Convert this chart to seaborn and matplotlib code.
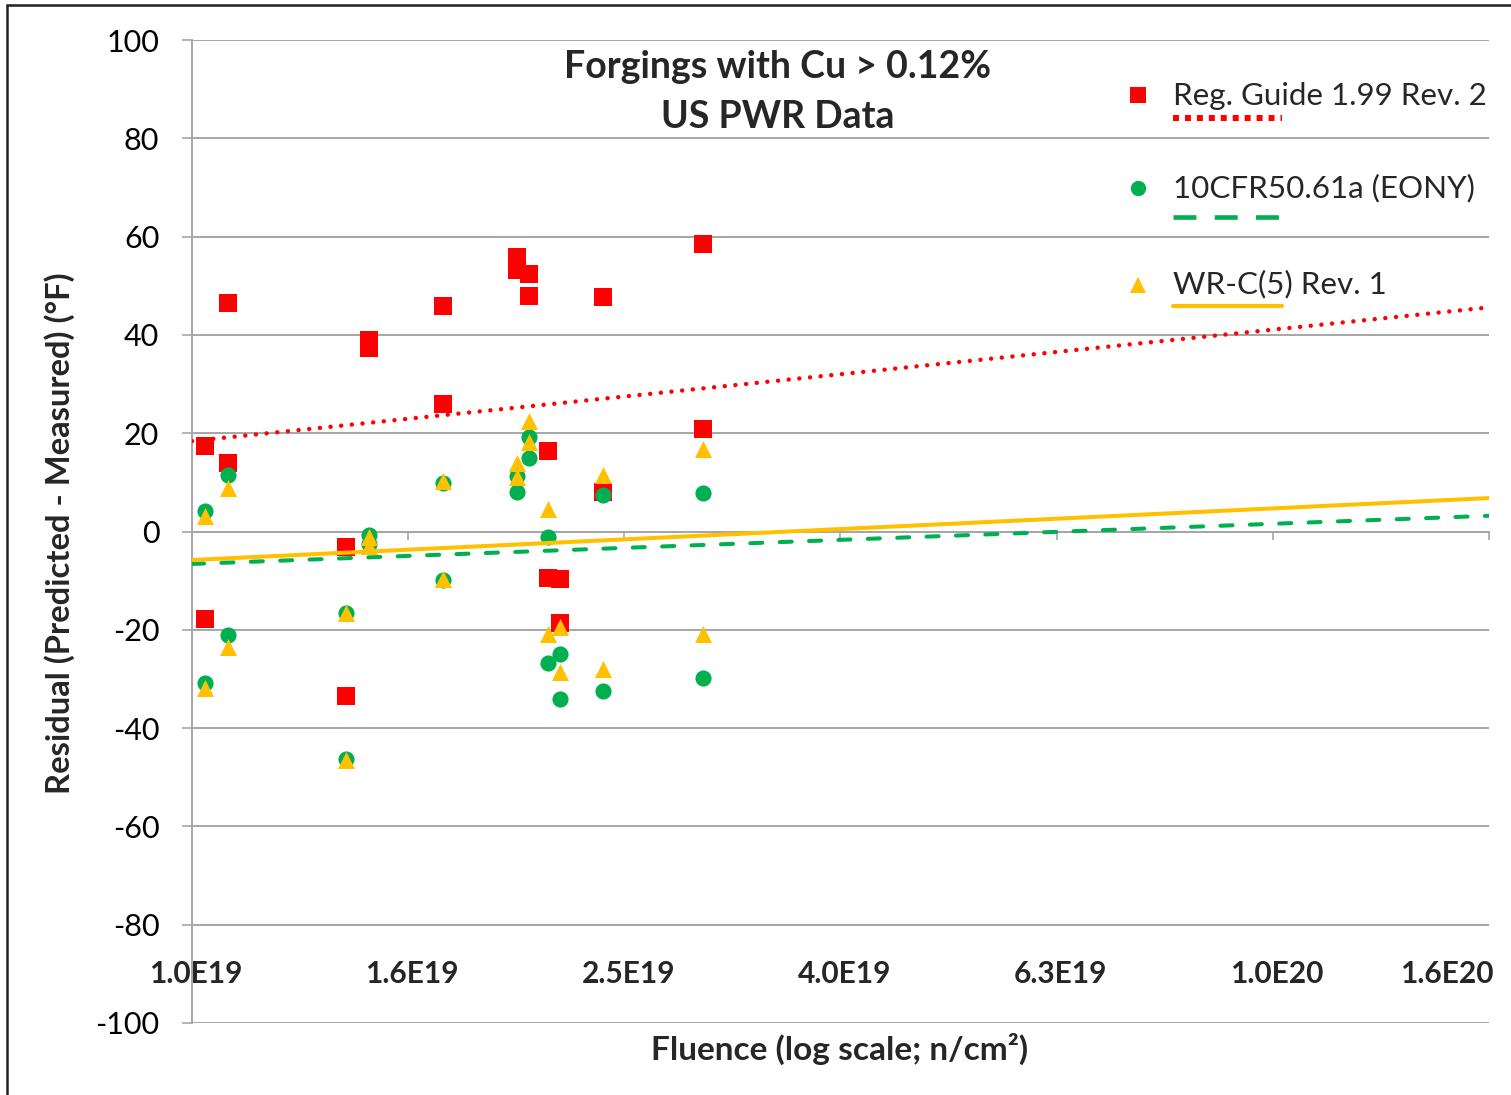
import numpy as np
import pandas as pd
import matplotlib
matplotlib.use("Agg")
import matplotlib.pyplot as plt
import seaborn as sns
from matplotlib.lines import Line2D

# ---------------- data ----------------
fluence = [1.028e19, 1.028e19, 1.080e19, 1.080e19, 1.389e19, 1.389e19,
           1.458e19, 1.458e19, 1.707e19, 1.707e19, 1.998e19, 1.998e19,
           2.050e19, 2.050e19, 2.135e19, 2.135e19, 2.190e19, 2.190e19,
           2.401e19, 2.401e19, 2.970e19, 2.970e19]
rg199 = [17.3, -17.8, 46.5, 14.0, -3.2, -33.4, 39.0, 37.3, 45.8, 26.0,
         55.9, 53.3, 52.3, 48.0, 16.3, -9.4, -9.7, -18.7, 47.8, 8.1,
         58.5, 20.8]
eony = [4.2, -30.9, 11.4, -21.0, -16.5, -46.3, -0.7, -2.6, 9.9, -9.8,
        11.2, 8.0, 19.3, 15.0, -1.1, -26.7, -25.0, -34.0, 7.4, -32.4,
        7.8, -29.9]
wrc5 = [3.1, -31.8, 8.9, -23.4, -16.5, -46.5, -1.2, -2.9, 10.2, -9.7,
        13.9, 11.0, 22.4, 18.2, 4.6, -20.8, -19.5, -28.6, 11.5, -28.0,
        16.7, -20.9]
series_names = ["Reg. Guide 1.99 Rev. 2", "10CFR50.61a (EONY)", "WR-C(5) Rev. 1"]

trend_fluence = [1.0e19, 1.585e20]
trend_rg199 = [18.4, 45.6]
trend_eony = [-6.6, 3.2]
trend_wrc5 = [-5.8, 6.8]

x_tick_values = [1.0e19, 1.585e19, 2.512e19, 3.981e19, 6.310e19, 1.0e20, 1.585e20]
x_tick_labels = ["1.0E19", "1.6E19", "2.5E19", "4.0E19", "6.3E19", "1.0E20", "1.6E20"]
y_ticks = list(range(-100, 101, 20))

title_lines = ["Forgings with Cu > 0.12%", "US PWR Data"]
x_label = "Fluence (log scale; n/cm²)"
y_label = "Residual (Predicted - Measured) (°F)"

# ---------------- styling ----------------
sns.set_theme(style="white")
plt.rcParams['font.family'] = ['Lato', 'DejaVu Sans']

W, H = 1511, 1095
fig = plt.figure(figsize=(W / 100, H / 100), dpi=100)
fig.patch.set_facecolor("white")

def fx(px):
    return px / W

def fy(py):
    return 1 - py / H

ax = fig.add_axes([fx(192), fy(1023), fx(1489) - fx(192), fy(40) - fy(1023)])
ax.set_facecolor("white")

RED = "#FF0000"
GREEN = "#00B050"
YELLOW = "#FFC000"
GRID = "#A6A6A6"

df = pd.DataFrame({
    "fluence": fluence * 3,
    "residual": rg199 + eony + wrc5,
    "model": [series_names[0]] * len(rg199) + [series_names[1]] * len(eony)
             + [series_names[2]] * len(wrc5),
})

marker_specs = [("s", RED, 150, 3), ("o", GREEN, 135, 4), ("^", YELLOW, 150, 5)]
for name, (mk, col, sz, zo) in zip(series_names, marker_specs):
    sub = df[df["model"] == name]
    sns.scatterplot(data=sub, x="fluence", y="residual", marker=mk, color=col,
                    s=sz, linewidth=0, ax=ax, zorder=zo, legend=False)

# trend lines
ax.plot(trend_fluence, trend_rg199, color=RED, lw=3.2, linestyle=(0, (0.01, 2.4)),
        dash_capstyle="round", zorder=6)
ax.plot(trend_fluence, trend_eony, color=GREEN, lw=2.9, linestyle=(0, (3.0, 4.3)),
        dash_capstyle="round", zorder=6)
ax.plot(trend_fluence, trend_wrc5, color=YELLOW, lw=2.9, linestyle="-", zorder=6)

ax.set_xscale("log")
ax.set_xlim(1.0e19, 1.585e20)
ax.set_ylim(-100, 100)
ax.set_xlabel("")
ax.set_ylabel("")

# y axis
ax.set_yticks(y_ticks)
ax.set_yticklabels([str(v) for v in y_ticks])
ax.yaxis.grid(True, color=GRID, lw=1.4, zorder=0)
ax.xaxis.grid(False)
ax.set_axisbelow(True)
ax.tick_params(axis="y", direction="out", length=7.5, width=1.2, color=GRID,
               pad=16, labelsize=22, labelcolor="black", left=True)

# x axis crossing at y = 0
ax.spines["top"].set_visible(False)
ax.spines["right"].set_visible(False)
ax.spines["bottom"].set_position(("data", 0))
ax.spines["bottom"].set_color(GRID)
ax.spines["bottom"].set_linewidth(1.4)
ax.spines["left"].set_color(GRID)
ax.spines["left"].set_linewidth(1.4)
ax.set_xticks(x_tick_values)
ax.set_xticks([], minor=True)
ax.set_xticklabels([""] * len(x_tick_values))
ax.tick_params(axis="x", direction="out", length=6, width=1.2, color=GRID,
               bottom=True, which="major")
for i, (v, lab) in enumerate(zip(x_tick_values, x_tick_labels)):
    if i == len(x_tick_values) - 1:
        ax.annotate(lab, xy=(v, -90), xytext=(5, 0), textcoords="offset pixels",
                    ha="right", va="center", fontsize=21.5, fontweight="bold",
                    annotation_clip=False)
    else:
        ax.annotate(lab, xy=(v, -90), xytext=(4, 0), textcoords="offset pixels",
                    ha="center", va="center", fontsize=21.5, fontweight="bold",
                    annotation_clip=False)

# title inside the plot
fig.text(fx(778), fy(78), title_lines[0], ha="center", va="baseline",
         fontsize=27, fontweight="bold")
fig.text(fx(778), fy(128), title_lines[1], ha="center", va="baseline",
         fontsize=27, fontweight="bold")

# axis labels
fig.text(fx(840), fy(1060), x_label, ha="center", va="baseline",
         fontsize=24, fontweight="bold")
fig.text(fx(60), fy(533), y_label, ha="center", va="center", rotation=90,
         fontsize=23.6, fontweight="bold")

# custom legend (marker to the left, line sample under the text)
leg_rows = [
    (95, 105, 118, "s", 11, RED, dict(lw=4.3, linestyle=(0, (1, 1)), dash_capstyle="butt")),
    (188, 197, 217, "o", 11, GREEN, dict(lw=3.3, linestyle=(0, (5, 4)), dash_capstyle="butt")),
    (285, 293, 306, "^", 11, YELLOW, dict(lw=3.0, linestyle="-")),
]
for (my, ty, ly, mk, ms, col, lkw), name in zip(leg_rows, series_names):
    fig.add_artist(Line2D([fx(1138)], [fy(my)], marker=mk, markersize=ms,
                          color=col, markeredgewidth=0, linestyle="none",
                          transform=fig.transFigure))
    fig.text(fx(1173), fy(ty), name, ha="left", va="baseline", fontsize=22.6)
    fig.add_artist(Line2D([fx(1173), fx(1282)], [fy(ly), fy(ly)], color=col,
                          transform=fig.transFigure, **lkw))

# outer chart border (left and top edges)
fig.add_artist(Line2D([fx(7), fx(7)], [fy(5), 0], color="#222222", lw=1.8,
                      transform=fig.transFigure))
fig.add_artist(Line2D([fx(7), 1], [fy(5), fy(5)], color="#222222", lw=1.8,
                      transform=fig.transFigure))

fig.savefig("out.png", dpi=100, facecolor="white")
